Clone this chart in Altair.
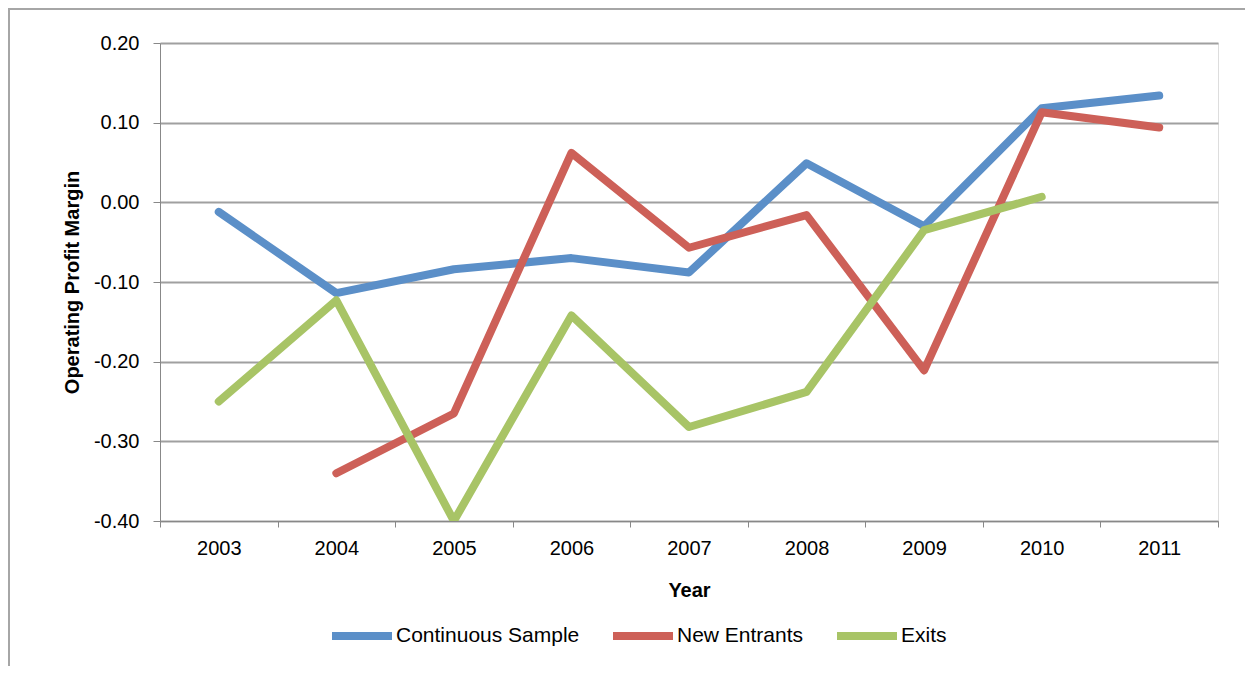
import altair as alt
import pandas as pd

years = ["2003", "2004", "2005", "2006", "2007", "2008", "2009", "2010", "2011"]
continuous = [-0.012, -0.114, -0.084, -0.070, -0.088, 0.049, -0.030, 0.118, 0.134]
new_entrants = [None, -0.340, -0.265, 0.062, -0.057, -0.016, -0.211, 0.113, 0.094]
exits = [-0.250, -0.123, -0.400, -0.142, -0.282, -0.238, -0.035, 0.007, None]
series_names = ["Continuous Sample", "New Entrants", "Exits"]
series_colors = ["#5B8FC8", "#CD6058", "#A8C466"]
y_ticks = [-0.4, -0.3, -0.2, -0.1, 0.0, 0.1, 0.2]

rows = []
for name, vals in zip(series_names, [continuous, new_entrants, exits]):
    for yr, v in zip(years, vals):
        if v is not None:
            rows.append({"year": yr, "value": v, "series": name})
df = pd.DataFrame(rows)

FONT = "Liberation Sans"
GRAY = "#A0A0A0"

lines = alt.Chart(df).mark_line(
    strokeWidth=8, strokeCap="round", strokeJoin="round", clip=True
).encode(
    x=alt.X(
        "year:O",
        bandPosition=0.5,
        scale=alt.Scale(type="band", paddingInner=0, paddingOuter=0, domain=years),
        axis=alt.Axis(
            title="Year",
            labelAngle=0,
            tickBand="extent",
            tickSize=6,
            labelPadding=11,
            labelFontSize=20,
            titleFontSize=20,
            titleFontWeight="bold",
            titleBaseline="alphabetic",
            titleY=75,
            grid=False,
        ),
    ),
    y=alt.Y(
        "value:Q",
        scale=alt.Scale(domain=[-0.4, 0.2], nice=False, zero=False),
        axis=alt.Axis(
            title="Operating Profit Margin",
            values=y_ticks,
            labelExpr="(datum.value < -0.0001 ? '-' : '') + format(abs(datum.value), '.2f')",
            tickSize=7,
            labelPadding=14,
            labelFontSize=20,
            titleFontSize=20,
            titleFontWeight="bold",
            titleBaseline="alphabetic",
            titleX=-82,
            titleY=239,
            grid=True,
            gridColor=GRAY,
            gridWidth=2,
        ),
    ),
    color=alt.Color(
        "series:N",
        scale=alt.Scale(domain=series_names, range=series_colors),
        legend=alt.Legend(
            title=None,
            orient="none",
            direction="horizontal",
            legendX=168,
            legendY=559,
            symbolType="stroke",
            symbolSize=3600,
            symbolStrokeWidth=8,
            labelFontSize=21,
            labelOffset=0,
            labelLimit=400,
            columnPadding=17,
        ),
    ),
    detail="series:N",
)

frame = alt.Chart(pd.DataFrame({"k": [0]})).mark_rect(
    fill="#FFFFFF", fillOpacity=0, stroke="#A6A6A6", strokeWidth=2
).encode(
    x=alt.value(-151), x2=alt.value(1120), y=alt.value(-34), y2=alt.value(650)
)

chart = alt.layer(frame, lines).properties(
    width=1058,
    height=478,
    autosize=alt.AutoSizeParams(type="none"),
    padding={"left": 152, "top": 35, "right": 27, "bottom": 145},
).configure_view(stroke=None).configure_axis(
    domainColor=GRAY,
    domainWidth=2,
    tickColor=GRAY,
    tickWidth=2,
    gridColor=GRAY,
    gridWidth=2,
    gridOpacity=1,
    labelColor="#000000",
    titleColor="#000000",
    labelFont=FONT,
    titleFont=FONT,
).configure_legend(labelFont=FONT, labelColor="#000000").configure(font=FONT)

chart.save("out.html", embed_options={"renderer": "svg", "actions": False})
